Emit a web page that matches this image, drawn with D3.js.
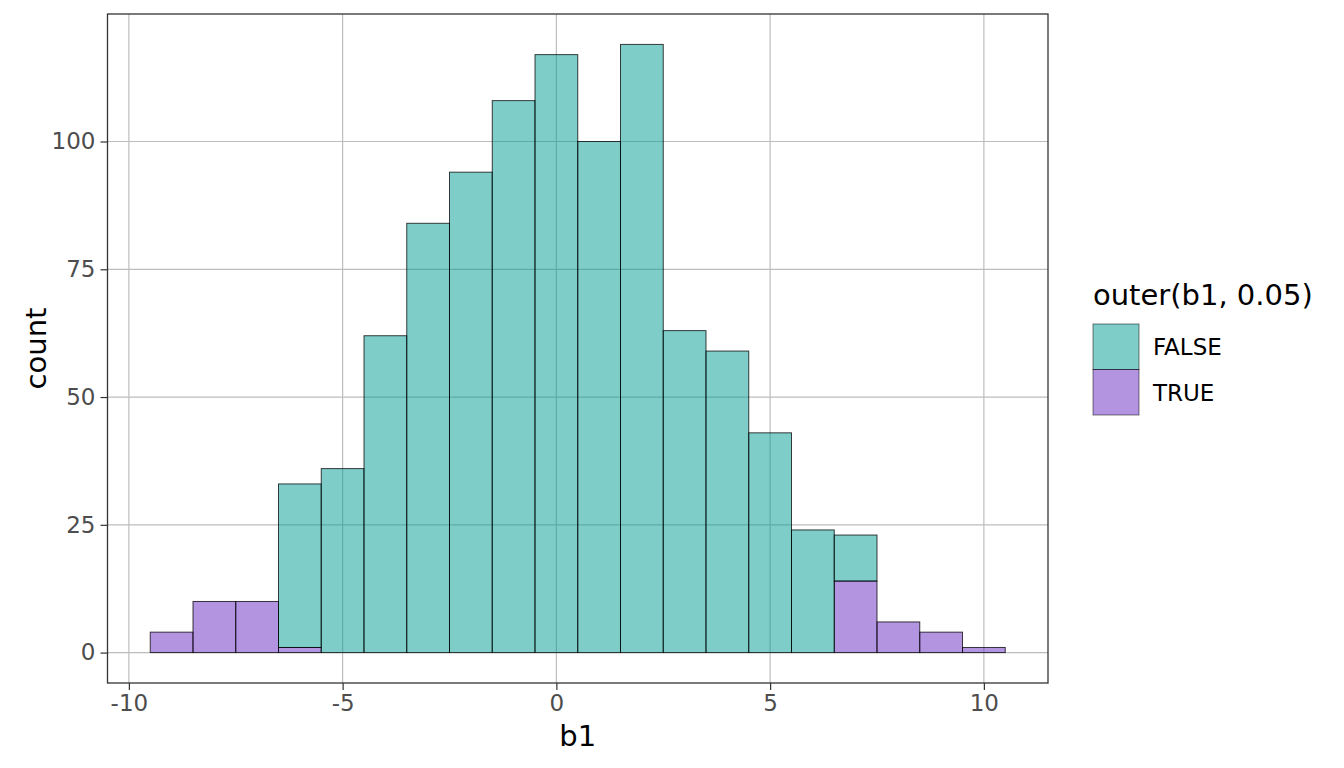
<!DOCTYPE html>
<html>
<head>
<meta charset="utf-8">
<script src="https://cdn.jsdelivr.net/npm/d3@7"></script>
<style>
  body { margin: 0; background: #fff; }
  svg { font-family: 'DejaVu Sans', sans-serif; }
</style>
</head>
<body>
<div id="chart"></div>
<script>
// histogram of b1, binwidth 1, bins centred on integers
var binCenters = [-9, -8, -7, -6, -5, -4, -3, -2, -1, 0, 1, 2, 3, 4, 5, 6, 7, 8, 9, 10];
var countTrue  = [4, 10, 10, 1, 0, 0, 0, 0, 0, 0, 0, 0, 0, 0, 0, 0, 14, 6, 4, 1];
var countFalse = [0, 0, 0, 32, 36, 62, 84, 94, 108, 117, 100, 119, 63, 59, 43, 24, 9, 0, 0, 0];
var groups = ['FALSE', 'TRUE'];
var xTicks = [-10, -5, 0, 5, 10];
var yTicks = [0, 25, 50, 75, 100];

var WIDTH = 1344, HEIGHT = 768;
var PANEL = { left: 107.5, right: 1048, top: 14, bottom: 683 };
var BIN_WIDTH = 1;
var TICK_LEN = 7;
var TEXT_SIZE = 23;
var TITLE_SIZE = 29;
var COLORS = { 'FALSE': '#009b93', 'TRUE': '#6729c1' };

var rows = binCenters.map(function (c, i) {
    return { x: c, 'TRUE': countTrue[i], 'FALSE': countFalse[i] };
});

// TRUE sits at the bottom of each stack
var layers = d3.stack().keys(['TRUE', 'FALSE'])(rows);
var yMax = d3.max(rows, function (d) { return d['TRUE'] + d['FALSE']; });

var xMin = d3.min(binCenters) - BIN_WIDTH / 2, xMax = d3.max(binCenters) + BIN_WIDTH / 2;
var xPad = (xMax - xMin) * 0.05, yPad = yMax * 0.05;
var xScale = d3.scaleLinear().domain([xMin - xPad, xMax + xPad]).range([PANEL.left, PANEL.right]);
var yScale = d3.scaleLinear().domain([-yPad, yMax + yPad]).range([PANEL.bottom, PANEL.top]);

var svg = d3.select('#chart').append('svg')
    .attr('width', WIDTH)
    .attr('height', HEIGHT);

// grid
var grid = svg.append('g').attr('stroke', '#bdbdbd').attr('stroke-width', 1.2);
grid.selectAll('.gx').data(xTicks).enter().append('line')
    .attr('x1', function (d) { return xScale(d); })
    .attr('x2', function (d) { return xScale(d); })
    .attr('y1', PANEL.top).attr('y2', PANEL.bottom);
grid.selectAll('.gy').data(yTicks).enter().append('line')
    .attr('y1', function (d) { return yScale(d); })
    .attr('y2', function (d) { return yScale(d); })
    .attr('x1', PANEL.left).attr('x2', PANEL.right);

// bars
svg.append('g').selectAll('.layer').data(layers).enter().append('g')
    .attr('class', 'layer')
    .attr('fill', function (d) { return COLORS[d.key]; })
    .attr('fill-opacity', 0.5)
    .attr('stroke', '#000')
    .attr('stroke-opacity', 0.75)
    .attr('stroke-width', 1)
    .selectAll('rect').data(function (d) { return d.filter(function (s) { return s[1] > s[0]; }); })
    .enter().append('rect')
    .attr('x', function (d) { return xScale(d.data.x - BIN_WIDTH / 2); })
    .attr('width', function (d) { return xScale(d.data.x + BIN_WIDTH / 2) - xScale(d.data.x - BIN_WIDTH / 2); })
    .attr('y', function (d) { return yScale(d[1]); })
    .attr('height', function (d) { return yScale(d[0]) - yScale(d[1]); });

// panel border
svg.append('rect')
    .attr('x', PANEL.left).attr('y', PANEL.top)
    .attr('width', PANEL.right - PANEL.left)
    .attr('height', PANEL.bottom - PANEL.top)
    .attr('fill', 'none')
    .attr('stroke', '#333')
    .attr('stroke-width', 1.3);

// axes
var xAxis = svg.append('g')
    .attr('transform', 'translate(0,' + PANEL.bottom + ')')
    .call(d3.axisBottom(xScale).tickValues(xTicks).tickSize(TICK_LEN).tickPadding(5).tickFormat(d3.format('d')));
var yAxis = svg.append('g')
    .attr('transform', 'translate(' + PANEL.left + ',0)')
    .call(d3.axisLeft(yScale).tickValues(yTicks).tickSize(TICK_LEN).tickPadding(5));
[xAxis, yAxis].forEach(function (a) {
    a.select('.domain').remove();
    a.selectAll('line').attr('stroke', '#333').attr('stroke-width', 1.2);
    a.selectAll('text')
        .attr('fill', '#4d4d4d')
        .style('font-size', TEXT_SIZE + 'px')
        .style('font-family', 'DejaVu Sans, sans-serif');
});
xAxis.selectAll('text').text(function (d) { return String(d).replace('\u2212', '-'); });

svg.append('text')
    .attr('x', (PANEL.left + PANEL.right) / 2)
    .attr('y', 746)
    .attr('text-anchor', 'middle')
    .style('font-size', TITLE_SIZE + 'px')
    .text('b1');
svg.append('text')
    .attr('transform', 'translate(46,' + (PANEL.top + PANEL.bottom) / 2 + ') rotate(-90)')
    .attr('text-anchor', 'middle')
    .style('font-size', TITLE_SIZE + 'px')
    .text('count');

// legend
var KEY_W = 46, KEY_H = 45.5;
var legend = svg.append('g').attr('transform', 'translate(1093,324)');
legend.append('text')
    .attr('x', 0).attr('y', -19)
    .style('font-size', TITLE_SIZE + 'px')
    .text('outer(b1, 0.05)');
var item = legend.selectAll('.item').data(groups).enter().append('g')
    .attr('class', 'item')
    .attr('transform', function (d, i) { return 'translate(0,' + (i * KEY_H) + ')'; });
item.append('rect')
    .attr('width', KEY_W).attr('height', KEY_H)
    .attr('fill', function (d) { return COLORS[d]; })
    .attr('fill-opacity', 0.5)
    .attr('stroke', '#000')
    .attr('stroke-opacity', 0.5)
    .attr('stroke-width', 1);
item.append('text')
    .attr('x', KEY_W + 14)
    .attr('y', KEY_H / 2)
    .attr('dy', '0.36em')
    .style('font-size', TEXT_SIZE + 'px')
    .text(function (d) { return d; });
</script>
</body>
</html>
